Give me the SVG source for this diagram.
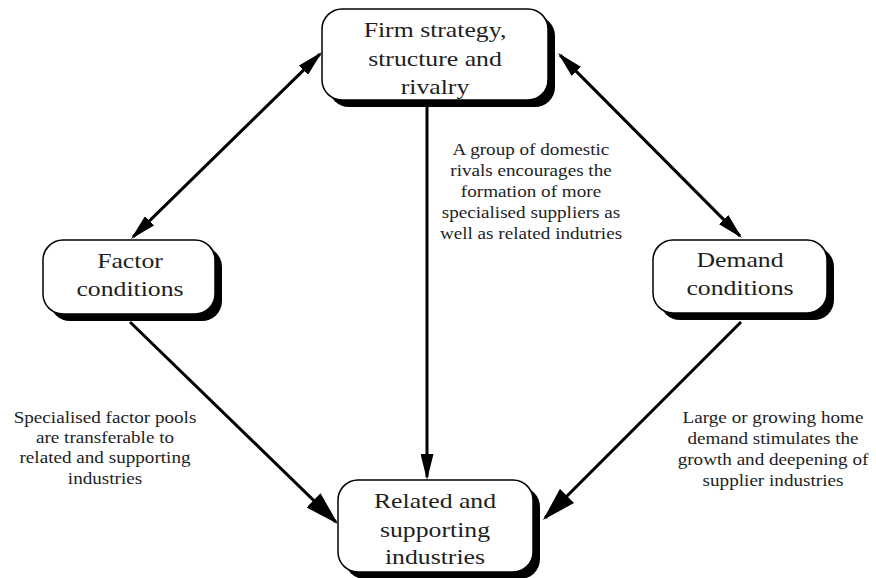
<svg xmlns="http://www.w3.org/2000/svg" width="876" height="578" viewBox="0 0 876 578">
  <style>
    .shadow { fill: #000; }
    .box { fill: #fff; stroke: #000; stroke-width: 1.5; }
    .label { font-family: "Liberation Serif", "Times New Roman", serif; font-size: 22px; fill: #1e1e1e; text-anchor: middle; }
    .note { font-family: "Liberation Serif", "Times New Roman", serif; font-size: 16.5px; fill: #1e1e1e; text-anchor: middle; }
    .link { stroke: #000; stroke-width: 3; fill: none; }
  </style>
  <defs>
    <marker id="arrow-sm" markerUnits="userSpaceOnUse" markerWidth="26" markerHeight="13" refX="23" refY="6.5" orient="auto-start-reverse">
      <path d="M0,0 L26,6.5 L0,13 z" fill="#000"/>
    </marker>
    <marker id="arrow-lg" markerUnits="userSpaceOnUse" markerWidth="34" markerHeight="20" refX="31" refY="10" orient="auto-start-reverse">
      <path d="M0,0 L34,10 L0,20 z" fill="#000"/>
    </marker>
  </defs>

  <rect width="876" height="578" fill="#fff"/>

  <!-- connectors -->
  <g id="connectors">
    <line class="link" x1="319.9" y1="54.1" x2="133.1" y2="236.9" marker-start="url(#arrow-sm)" marker-end="url(#arrow-sm)"/>
    <line class="link" x1="560.1" y1="55.1" x2="739.9" y2="235.9" marker-start="url(#arrow-sm)" marker-end="url(#arrow-sm)"/>
    <line class="link" x1="427" y1="106" x2="427" y2="477" marker-end="url(#arrow-sm)"/>
    <line class="link" x1="130" y1="322" x2="335.8" y2="521.9" marker-end="url(#arrow-lg)"/>
    <line class="link" x1="741" y1="322" x2="545.1" y2="517.9" marker-end="url(#arrow-lg)"/>
  </g>

  <!-- Firm strategy, structure and rivalry -->
  <g id="node-firm">
    <rect class="shadow" x="329" y="16" width="226" height="91" rx="20"/>
    <rect class="box" x="322" y="9" width="226" height="91" rx="20"/>
    <g transform="translate(435,0) scale(1.17,1)">
      <text class="label" x="0" y="37">Firm strategy,</text>
      <text class="label" x="0" y="66">structure and</text>
      <text class="label" x="0" y="94">rivalry</text>
    </g>
  </g>

  <!-- Factor conditions -->
  <g id="node-factor">
    <rect class="shadow" x="50" y="247" width="172" height="74" rx="20"/>
    <rect class="box" x="43" y="240" width="172" height="74" rx="20"/>
    <g transform="translate(130,0) scale(1.17,1)">
      <text class="label" x="0" y="268">Factor</text>
      <text class="label" x="0" y="296">conditions</text>
    </g>
  </g>

  <!-- Demand conditions -->
  <g id="node-demand">
    <rect class="shadow" x="660" y="247" width="174" height="73" rx="20"/>
    <rect class="box" x="653" y="240" width="174" height="73" rx="20"/>
    <g transform="translate(740,0) scale(1.17,1)">
      <text class="label" x="0" y="267">Demand</text>
      <text class="label" x="0" y="295">conditions</text>
    </g>
  </g>

  <!-- Related and supporting industries -->
  <g id="node-related">
    <rect class="shadow" x="345" y="487" width="195" height="92" rx="20"/>
    <rect class="box" x="338" y="480" width="195" height="92" rx="20"/>
    <g transform="translate(435,0) scale(1.17,1)">
      <text class="label" x="0" y="508">Related and</text>
      <text class="label" x="0" y="537">supporting</text>
      <text class="label" x="0" y="564">industries</text>
    </g>
  </g>

  <!-- edge annotations -->
  <g id="note-rivals" transform="translate(531,0) scale(1.16,1)">
    <text class="note" x="0" y="155">A group of domestic</text>
    <text class="note" x="0" y="176">rivals encourages the</text>
    <text class="note" x="0" y="197">formation of more</text>
    <text class="note" x="0" y="218">specialised suppliers as</text>
    <text class="note" x="0" y="239">well as related indutries</text>
  </g>

  <g id="note-factor" transform="translate(105,0) scale(1.16,1)">
    <text class="note" x="0" y="423">Specialised factor pools</text>
    <text class="note" x="0" y="443">are transferable to</text>
    <text class="note" x="0" y="463">related and supporting</text>
    <text class="note" x="0" y="484">industries</text>
  </g>

  <g id="note-demand" transform="translate(773,0) scale(1.16,1)">
    <text class="note" x="0" y="423">Large or growing home</text>
    <text class="note" x="0" y="444">demand stimulates the</text>
    <text class="note" x="0" y="465">growth and deepening of</text>
    <text class="note" x="0" y="486">supplier industries</text>
  </g>
</svg>
